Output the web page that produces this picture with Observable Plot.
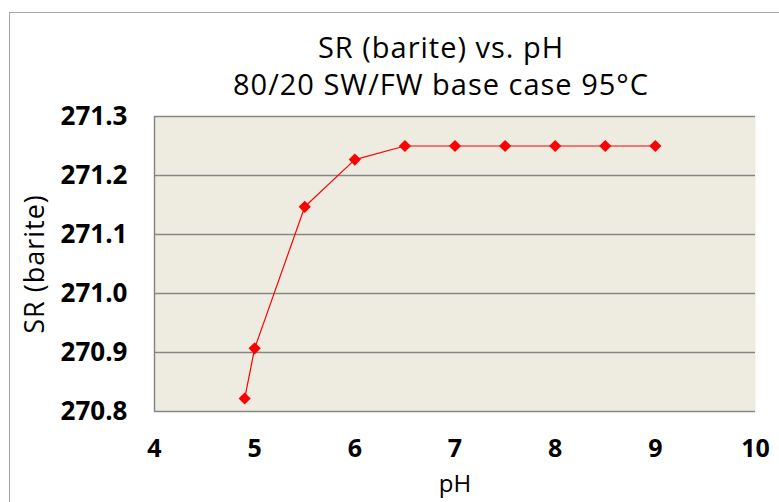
<!DOCTYPE html>
<html>
<head>
<meta charset="utf-8">
<script src="https://cdn.jsdelivr.net/npm/d3@7"></script>
<script src="https://cdn.jsdelivr.net/npm/@observablehq/plot@0.6"></script>
<style>
  html, body { margin: 0; padding: 0; background: #ffffff; }
  #wrap { position: relative; width: 779px; height: 502px; overflow: hidden; }
  #border { position: absolute; left: 9px; top: 12px; width: 900px; height: 700px;
            border: 1.5px solid #a6a6a6; pointer-events: none; }
</style>
</head>
<body>
<div id="wrap"><div id="border"></div></div>
<script>
// Saturation ratio of barite against pH, 80/20 seawater/formation water, 95 °C
const pH = [4.9, 5, 5.5, 6, 6.5, 7, 7.5, 8, 8.5, 9];
const srBarite = [270.822, 270.907, 271.147, 271.227, 271.25, 271.25, 271.25, 271.25, 271.25, 271.25];
const xTicks = [4, 5, 6, 7, 8, 9, 10];
const yTicks = [270.8, 270.9, 271.0, 271.1, 271.2, 271.3];
const titleLines = ["SR (barite) vs. pH", "80/20 SW/FW base case 95°C"];
const xLabel = "pH";
const yLabel = "SR (barite)";

const data = pH.map((x, i) => ({pH: x, sr: srBarite[i]}));

const chart = Plot.plot({
  width: 779,
  height: 502,
  marginLeft: 154,
  marginRight: 24,
  marginTop: 116,
  marginBottom: 91,
  style: {fontFamily: "'Open Sans', Lato, sans-serif", background: "transparent", overflow: "visible", color: "#000"},
  x: {domain: [4, 10]},
  y: {domain: [270.8, 271.3]},
  marks: [
    Plot.frame({fill: "#EEECE1", stroke: null}),
    Plot.gridY(yTicks, {stroke: "#868686", strokeOpacity: 1, strokeWidth: 1.5}),
    Plot.ruleX([4], {stroke: "#868686", strokeWidth: 1.5}),
    Plot.axisX({ticks: xTicks, tickSize: 0, tickPadding: 28, fontSize: 25, fontWeight: "bold",
                tickFormat: d => String(d), label: null}),
    Plot.axisY({ticks: yTicks, tickSize: 0, tickPadding: 27, fontSize: 26, fontWeight: "bold",
                tickFormat: d3.format(".1f"), label: null}),
    Plot.line(data, {x: "pH", y: "sr", stroke: "#FF0000", strokeWidth: 1.2}),
    Plot.dot(data, {x: "pH", y: "sr", symbol: "diamond2", fill: "#FF0000", stroke: null, r: 5.5}),
    Plot.text([xLabel], {frameAnchor: "bottom", lineAnchor: "middle", textAnchor: "middle", dy: 73, fontSize: 24}),
    Plot.text([yLabel], {frameAnchor: "left", lineAnchor: "middle", textAnchor: "middle", dx: -119, rotate: -90, fontSize: 27}),
    Plot.text([titleLines[0]], {frameAnchor: "top", lineAnchor: "middle", textAnchor: "middle", dx: -14, dy: -68, fontSize: 29}),
    Plot.text([titleLines[1]], {frameAnchor: "top", lineAnchor: "middle", textAnchor: "middle", dx: -14, dy: -31, fontSize: 29})
  ]
});

// slightly looser tracking for the titles and the y-axis label
d3.select(chart).selectAll("text")
  .filter(function() { return titleLines.includes(this.textContent) || this.textContent === yLabel; })
  .style("letter-spacing", "1px");

document.getElementById("wrap").prepend(chart);
</script>
</body>
</html>
